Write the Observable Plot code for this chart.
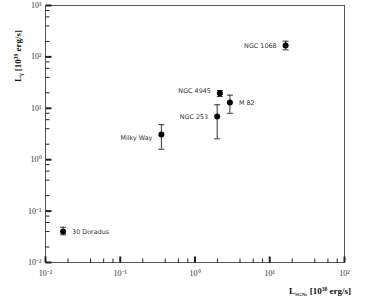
<!DOCTYPE html>
<html><head><meta charset="utf-8">
<script src="https://cdn.jsdelivr.net/npm/d3@7"></script>
<script src="https://cdn.jsdelivr.net/npm/@observablehq/plot@0.6"></script>
<style>body{margin:0;background:#fff}</style>
</head><body><div id="chart"></div>
<script>
const names = ["30 Doradus", "Milky Way", "NGC 253", "M 82", "NGC 4945", "NGC 1068"];
const lSGNe = [0.0172, 0.355, 1.98, 2.93, 2.15, 16.3];
const lGamma = [0.040, 3.1, 6.9, 13, 19.7, 167];
const lGammaLow = [0.0346, 1.6, 2.55, 8.0, 17, 137];
const lGammaHigh = [0.0486, 4.8, 11.7, 18, 22.2, 202];
const labelSide = ["right", "left", "left", "right", "left", "left"];
const labelDy = [0, 3, 0, 0, -2, 0];
const xTicks = [0.01, 0.1, 1, 10, 100];
const xTickLabels = ["10⁻²", "10⁻¹", "10⁰", "10¹", "10²"];
const yTicks = [0.01, 0.1, 1, 10, 100, 1000];
const yTickLabels = ["10⁻²", "10⁻¹", "10⁰", "10¹", "10²", "10³"];
const minorMultipliers = [2, 4, 6, 8];

const data = names.map((n, i) => ({name: n, x: lSGNe[i], y: lGamma[i], lo: lGammaLow[i], hi: lGammaHigh[i], side: labelSide[i], dy: labelDy[i]}));
const minorX = xTicks.slice(0, -1).flatMap(d => minorMultipliers.map(m => d * m));
const minorY = yTicks.slice(0, -1).flatMap(d => minorMultipliers.map(m => d * m));
const fmtX = d => xTickLabels[xTicks.indexOf(d)] ?? "";
const fmtY = d => yTickLabels[yTicks.indexOf(d)] ?? "";

const capSymbol = {draw(ctx, size) { const w = Math.sqrt(size / Math.PI); ctx.moveTo(-w, 0); ctx.lineTo(w, 0); }};
const tickRight = {draw(ctx, size) { const l = Math.sqrt(size / Math.PI); ctx.moveTo(0, 0); ctx.lineTo(l, 0); }};
const tickUp = {draw(ctx, size) { const l = Math.sqrt(size / Math.PI); ctx.moveTo(0, 0); ctx.lineTo(0, -l); }};
const axisColor = "#555";
const tickColor = "#222";
const labelFont = "'DejaVu Sans', sans-serif";

const labelMarks = data.map(d => Plot.text([d], {
  x: "x", y: "y", text: "name",
  dx: d.side === "left" ? -9 : 9, dy: d.dy,
  textAnchor: d.side === "left" ? "end" : "start",
  fontFamily: labelFont, fontSize: 6.4, fill: "#333"
}));

const chart = Plot.plot({
  width: 371, height: 298,
  marginLeft: 45, marginRight: 27, marginTop: 5, marginBottom: 36,
  style: {background: "#fff", fontFamily: "'Liberation Serif', serif", fontSize: "8px", color: "#333"},
  x: {type: "log", domain: [0.01, 100]},
  y: {type: "log", domain: [0.01, 1000]},
  marks: [
    Plot.frame({stroke: axisColor}),
    Plot.axisX({ticks: xTicks, tickFormat: fmtX, tickSize: 0, tickPadding: 8, label: null}),
    Plot.axisY({ticks: yTicks, tickFormat: fmtY, tickSize: 0, tickPadding: 4, label: null}),
    Plot.dot(yTicks, {y: d => d, frameAnchor: "left", symbol: tickRight, r: 6, stroke: tickColor, strokeWidth: 2, fill: "none"}),
    Plot.dot(minorY, {y: d => d, frameAnchor: "left", symbol: tickRight, r: 4, stroke: tickColor, strokeWidth: 1, fill: "none"}),
    Plot.dot(xTicks, {x: d => d, frameAnchor: "bottom", symbol: tickUp, r: 6, stroke: tickColor, strokeWidth: 2, fill: "none"}),
    Plot.dot(minorX, {x: d => d, frameAnchor: "bottom", symbol: tickUp, r: 4, stroke: tickColor, strokeWidth: 1, fill: "none"}),
    Plot.ruleX(data, {x: "x", y1: "lo", y2: "hi", stroke: "#333", strokeWidth: 1}),
    Plot.dot(data, {x: "x", y: "lo", symbol: capSymbol, r: 3, stroke: "#333", strokeWidth: 1, fill: "none"}),
    Plot.dot(data, {x: "x", y: "hi", symbol: capSymbol, r: 3, stroke: "#333", strokeWidth: 1, fill: "none"}),
    Plot.dot(data, {x: "x", y: "y", r: 3, fill: "#000", stroke: "none"}),
    ...labelMarks
  ]
});
document.getElementById("chart").append(chart);

const svg = d3.select(chart);

// axis titles with sub/superscripts
const xl = svg.append("text").attr("x", 351).attr("y", 294).attr("text-anchor", "end")
  .attr("font-family", "'Liberation Serif', serif").attr("font-weight", "bold").attr("font-size", 9).attr("fill", "#111");
xl.append("tspan").text("L");
xl.append("tspan").attr("font-size", 5).attr("dy", 1.5).text("SGNe");
xl.append("tspan").attr("dy", -1.5).text(" [10");
xl.append("tspan").attr("font-size", 5.5).attr("dy", -3.5).text("38");
xl.append("tspan").attr("dy", 3.5).text(" erg/s]");

const yl = svg.append("text").attr("transform", "translate(21,82) rotate(-90)").attr("text-anchor", "start")
  .attr("font-family", "'Liberation Serif', serif").attr("font-weight", "bold").attr("font-size", 9).attr("fill", "#111");
yl.append("tspan").text("L");
yl.append("tspan").attr("font-size", 5.5).attr("dy", 1.5).text("γ");
yl.append("tspan").attr("dy", -1.5).text(" [10");
yl.append("tspan").attr("font-size", 5.5).attr("dy", -3.5).text("39");
yl.append("tspan").attr("dy", 3.5).text(" erg/s]");
</script>
</body></html>
